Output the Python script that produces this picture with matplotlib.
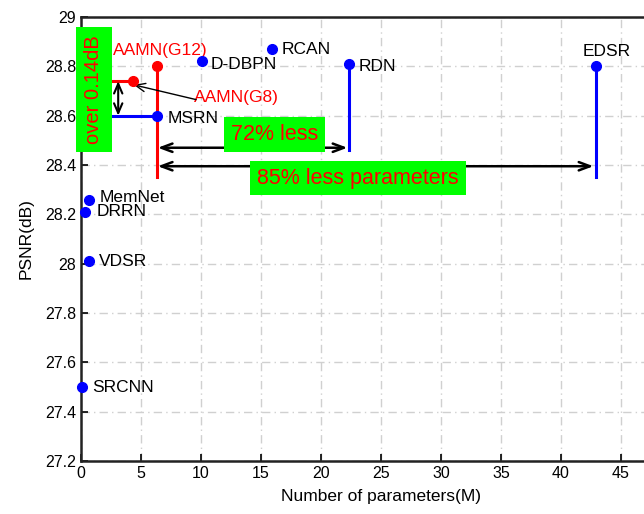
import matplotlib.pyplot as plt
from matplotlib.ticker import FuncFormatter

plt.rcParams['font.family'] = ['Liberation Sans', 'DejaVu Sans']

# model name, params (M), PSNR (dB)
names = ['SRCNN', 'DRRN', 'MemNet', 'VDSR', 'MSRN', 'D-DBPN', 'RCAN', 'RDN', 'EDSR']
params = [0.057, 0.297, 0.677, 0.665, 6.3, 10.1, 15.9, 22.3, 42.9]
psnr = [27.50, 28.21, 28.26, 28.01, 28.60, 28.82, 28.87, 28.81, 28.80]

ours_names = ['AAMN(G12)', 'AAMN(G8)']
ours_params = [6.3, 4.3]
ours_psnr = [28.80, 28.74]

fig = plt.figure(figsize=(6.44, 5.14), dpi=100)
ax = fig.add_axes([81 / 644, 53 / 514, 600 / 644, 444 / 514])

# stems / guide lines
ax.plot([ours_params[0], ours_params[0]], [28.35, ours_psnr[0]], color='red', lw=2.2, zorder=2)
ax.plot([2.6, ours_params[1]], [ours_psnr[1], ours_psnr[1]], color='red', lw=2.2, zorder=2)
ax.plot([2.6, params[4]], [psnr[4], psnr[4]], color='blue', lw=2.2, zorder=2)
ax.plot([params[7], params[7]], [28.46, psnr[7]], color='blue', lw=2.2, zorder=2)
ax.plot([params[8], params[8]], [28.35, psnr[8]], color='blue', lw=2.2, zorder=2)

ax.plot(params, psnr, 'o', color='blue', ms=7, zorder=4, clip_on=False)
ax.plot(ours_params, ours_psnr, 'o', color='red', ms=7, zorder=4)

# labels
fs = 12.5
offs = {'SRCNN': (0.9, 0), 'DRRN': (1.0, 0), 'MemNet': (0.9, 0.01), 'VDSR': (0.8, 0),
        'MSRN': (0.9, -0.01), 'D-DBPN': (0.7, -0.012), 'RCAN': (0.8, 0), 'RDN': (0.8, -0.01)}
for n, x, y in zip(names, params, psnr):
    if n == 'EDSR':
        ax.text(x + 0.9, y + 0.06, n, fontsize=fs, ha='center', va='center')
    else:
        dx, dy = offs[n]
        ax.text(x + dx, y + dy, n, fontsize=fs, ha='left', va='center')
ax.text(2.7, 28.865, ours_names[0], fontsize=fs, color='red', ha='left', va='center')
ax.text(9.4, 28.675, ours_names[1], fontsize=fs, color='red', ha='left', va='center')
ax.annotate('', xy=(4.4, 28.725), xytext=(9.6, 28.665),
            arrowprops=dict(arrowstyle='->,head_length=0.7,head_width=0.3', color='black',
                            lw=1, shrinkA=0, shrinkB=0))

# double arrows
dbl = dict(arrowstyle='<->,head_length=0.8,head_width=0.3', color='black', lw=1.8,
           shrinkA=0, shrinkB=0)
ax.annotate('', xy=(6.4, 28.47), xytext=(22.2, 28.47), arrowprops=dbl)
ax.annotate('', xy=(6.4, 28.395), xytext=(42.7, 28.395), arrowprops=dbl)
ax.annotate('', xy=(3.1, 28.74), xytext=(3.1, 28.60),
            arrowprops=dict(arrowstyle='<->,head_length=0.7,head_width=0.3', color='black',
                            lw=1.5, shrinkA=0, shrinkB=0))

box = dict(boxstyle='square,pad=0.32', fc='#00ff00', ec='none')
ax.text(16.1, 28.525, '72% less', fontsize=15.5, color='red', ha='center', va='center',
        bbox=box)
ax.text(23.1, 28.347, '85% less parameters', fontsize=15.5, color='red', ha='center',
        va='center', bbox=box)
ax.text(1.08, 28.706, 'over 0.14dB', fontsize=14.5, color='red', rotation=90, ha='center',
        va='center', bbox=dict(boxstyle='square,pad=0.4', fc='#00ff00', ec='none'),
        clip_on=False)

ax.set_xlim(0, 50)
ax.set_ylim(27.2, 29)
ax.set_xticks(range(0, 46, 5))
ax.set_yticks([27.2 + 0.2 * i for i in range(10)])
ax.yaxis.set_major_formatter(FuncFormatter(lambda v, p: f'{v:.1f}'.rstrip('0').rstrip('.')))
ax.grid(True, color='#d0d0d0', ls=(0, (6, 3, 1, 3)), lw=1)
ax.tick_params(direction='in', labelsize=11.5, length=5, width=1.2, top=False, right=False)
for s in ax.spines.values():
    s.set_linewidth(1.8)
    s.set_color('#222222')
ax.set_xlabel('Number of parameters(M)', fontsize=12.5, labelpad=6)
ax.set_ylabel('PSNR(dB)', fontsize=12.5, labelpad=8)

fig.savefig('out.png', dpi=100)
